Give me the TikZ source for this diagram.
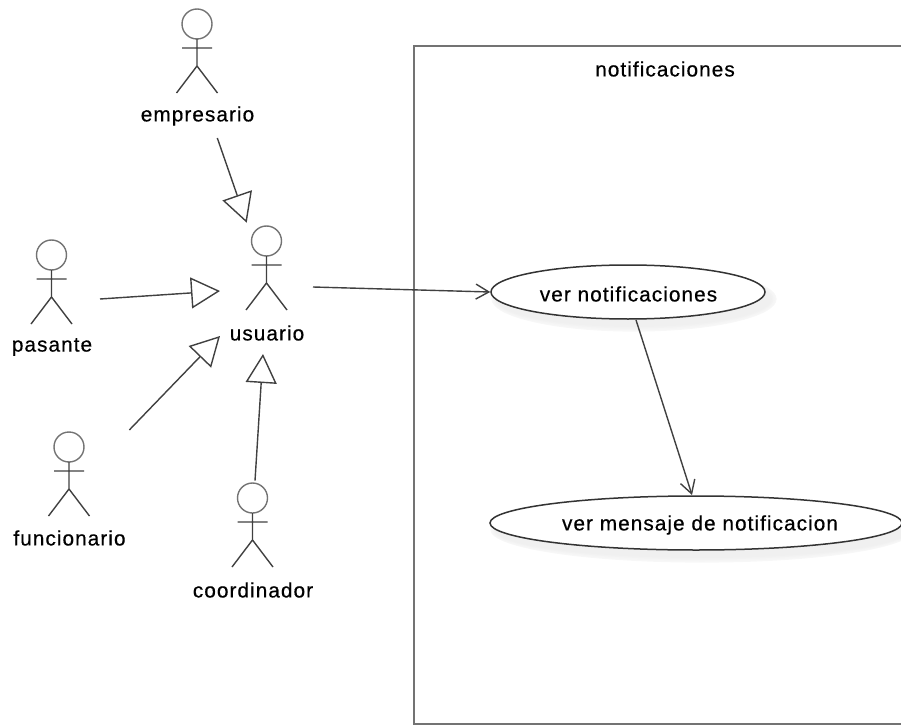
\documentclass[tikz,border=0pt]{standalone}
\usepackage{fontspec}
\setmainfont{Liberation Sans}
\usetikzlibrary{arrows.meta,shapes.geometric}
\tikzset{
  ln/.style={line width=1.4pt,draw=black!75},
  lbl/.style={font=\fontsize{20.8}{23}\selectfont\addfontfeatures{LetterSpace=5,FakeBold=0.5},text=black,inner sep=0pt},
  actorbox/.style={minimum width=41pt,minimum height=84pt,inner sep=0pt},
  gen/.style={ln,-{Triangle[open,length=29pt,width=31pt,line width=1.4pt]}},
  dep/.style={ln,-{Straight Barb[length=13pt,width=15pt,line width=1.4pt]}},
  usecase/.style={ellipse,draw=black!80,line width=1.5pt,fill=white,inner sep=0pt},
  pics/actor/.style={code={
    \draw[line width=1.4pt,draw=black!55] (0,0) circle (15);
    \draw[ln] (0,15) -- (0,42) (-15,24) -- (15,24) (-20.5,69) -- (0,42) -- (20.5,69);
  }}
}
\begin{document}
\begin{tikzpicture}[x=1pt,y=-1pt]
\useasboundingbox (0,0) rectangle (901,727);
% system boundary
\draw[line width=2pt,draw=black!55] (901,46.5) -- (414,46.5) -- (414,724) -- (901,724);
\node[lbl] (sys) at (665,69) {notificaciones};
% actors
\pic at (197,24) {actor};
\pic at (266.5,241) {actor};
\pic at (51.5,255) {actor};
\pic at (69,447) {actor};
\pic at (252.5,498) {actor};
\node[actorbox] (aemp) at (197,51) {};
\node[actorbox] (ausu) at (266.5,268) {};
\node[actorbox] (apas) at (51.5,282) {};
\node[actorbox] (afun) at (69,474) {};
\node[actorbox] (acoo) at (252.5,525) {};
\node[lbl] (lemp) at (197.5,116) {empresario};
\node[lbl] (lusu) at (267,333) {usuario};
\node[lbl] (lpas) at (52,347) {pasante};
\node[lbl] (lfun) at (69.5,538) {funcionario};
\node[lbl] (lcoo) at (253,590) {coordinador};
% use cases with soft shadows
\foreach \g/\d in {3/14,4/10,5/6,6/2}{
  \fill[black!\g] (634,299) ellipse ({137+\d*0.4} and {27+\d*0.4});
  \fill[black!\g] (702,530) ellipse ({206+\d*0.4} and {27+\d*0.4});
}
\node[usecase,minimum width=274pt,minimum height=54pt] (uc1) at (628,292) {};
\node[usecase,minimum width=412pt,minimum height=54pt] (uc2) at (696,523) {};
\node[lbl] at (628.5,294) {ver notificaciones};
\node[lbl] at (700,525) {ver mensaje de notificacion};
% connector free ends
\coordinate (e1) at (217.3,138);
\coordinate (e2) at (246.7,222.7);
\coordinate (p1) at (100,299);
\coordinate (p2) at (220,291);
\coordinate (f1) at (129.3,430);
\coordinate (f2) at (220,336);
\coordinate (c1) at (255,480.7);
\coordinate (c2) at (263,354);
\coordinate (u1) at (313,287);
\coordinate (n1) at (636,320);
\coordinate (n2) at (692,495);
\draw[gen] (e1) -- (e2);
\draw[gen] (p1) -- (p2);
\draw[gen] (f1) -- (f2);
\draw[gen] (c1) -- (c2);
\draw[dep] (u1) -- (uc1.west);
\draw[dep] (n1) -- (n2);
\end{tikzpicture}
\end{document}
